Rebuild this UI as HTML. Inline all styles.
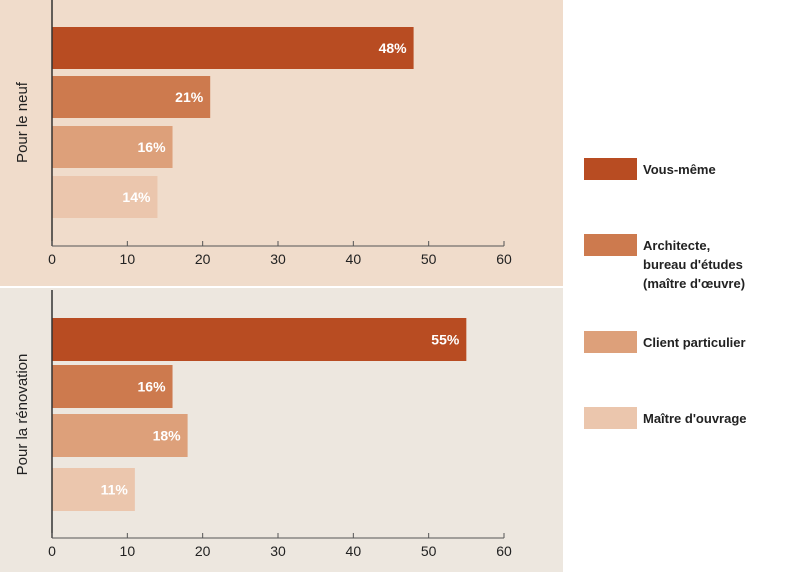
<!DOCTYPE html>
<html><head><meta charset="utf-8"><style>
body{margin:0;width:800px;height:572px;overflow:hidden;background:#fff;font-family:"Liberation Sans",sans-serif}
</style></head><body>
<svg id="chart" width="800" height="572" xmlns="http://www.w3.org/2000/svg">
<rect x="0" y="0" width="563" height="286" fill="#f0dccb"/>
<rect x="0" y="288" width="563" height="284" fill="#ede7df"/>
<g id="plots"></g>
<g id="legend"></g>
</svg>
<script>
const categories = ["Vous-même", "Architecte, bureau d'études (maître d'œuvre)", "Client particulier", "Maître d'ouvrage"];
const valuesNeuf = [48, 21, 16, 14];
const valuesRenovation = [55, 16, 18, 11];
const ticks = [0, 10, 20, 30, 40, 50, 60];
const colors = ["#b84c22", "#cd7a4e", "#dda07a", "#ebc6ad"];
const NS = "http://www.w3.org/2000/svg";
function mk(tag, attrs, parent, text){const e=document.createElementNS(NS,tag);for(const k in attrs)e.setAttribute(k,attrs[k]);if(text!==undefined)e.textContent=text;parent.appendChild(e);return e;}
const x0=52, x1=504, xMax=60;
function xs(v){return x0+(x1-x0)*v/xMax;}
const plots=document.getElementById('plots');
function panel(vals, axisTop, axisY, barTops, barH, title, key){
  const g=mk('g',{},plots);
  
  
  vals.forEach((v,i)=>{
    const r=mk('rect',{x:x0,y:barTops[i],width:xs(v)-x0,height:barH,fill:colors[i]},g);
    
    
    const t=mk('text',{x:xs(v)-7,y:barTops[i]+barH/2+5,'text-anchor':'end','font-size':'14','font-weight':'bold',fill:'#fff'},g,v+'%');
    
    
  });
  const ya=mk('line',{x1:x0,y1:axisTop,x2:x0,y2:axisY,stroke:'#333','stroke-width':1.5},g);
  
  
  const xa=mk('line',{x1:x0,y1:axisY,x2:x1,y2:axisY,stroke:'#555','stroke-width':1},g);
  
  
  ticks.forEach(tv=>{
    mk('line',{x1:xs(tv),y1:axisY-5,x2:xs(tv),y2:axisY,stroke:'#555'},g);
    const tl=mk('text',{x:xs(tv),y:axisY+18,'text-anchor':'middle','font-size':'14',fill:'#222'},g,tv);
    
    
  });
  const cy=(barTops[0]+barTops[3]+barH)/2;
  const tt=mk('text',{x:0,y:0,transform:'translate(27,'+cy+') rotate(-90)','text-anchor':'middle','font-size':'15',fill:'#222'},g,title);
  
  
}
panel(valuesNeuf,0,246,[27,76,126,176],42,'Pour le neuf','neuf');
panel(valuesRenovation,290,538,[318,365,414,468],43,'Pour la rénovation','renovation');
const leg=document.getElementById('legend');
const legY=[158,234,331,407];
const legLines=[["Vous-même"],["Architecte,","bureau d'études","(maître d'œuvre)"],["Client particulier"],["Maître d'ouvrage"]];
legLines.forEach((ls,i)=>{
  const s=mk('rect',{x:584,y:legY[i],width:53,height:22,fill:colors[i]},leg);
  
  
  ls.forEach((l,j)=>{
    const t=mk('text',{x:643,y:legY[i]+16+j*19,'font-size':'13','font-weight':'bold',fill:'#222'},leg,l);
    
    
  });
});
</script>
</body></html>
